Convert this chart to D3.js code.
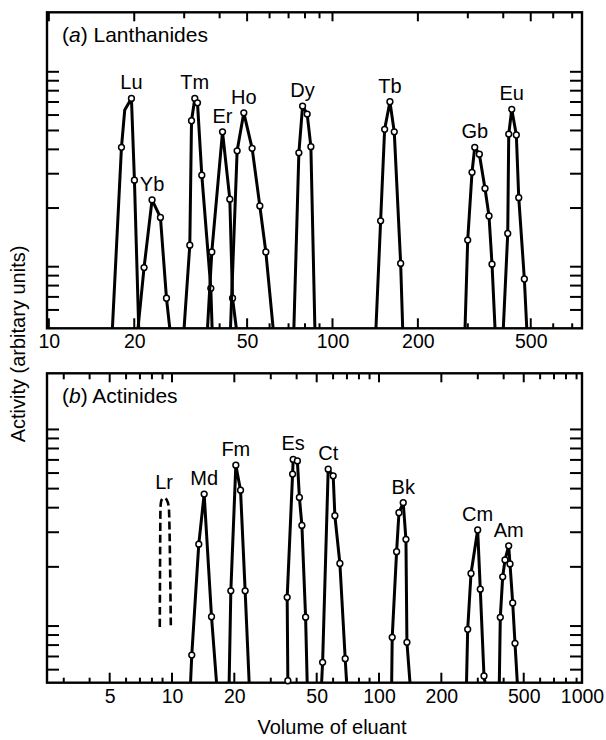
<!DOCTYPE html>
<html><head><meta charset="utf-8">
<script src="https://cdn.jsdelivr.net/npm/d3@7"></script>
<style>
body{margin:0;background:#fff}
svg text{font-family:"Liberation Sans",Arial,Helvetica,sans-serif;fill:#000}
</style>
</head><body><svg id="c" width="606" height="740"></svg>
<script>
// ---------- (a) Lanthanides ----------
const lanNames = ["Lu","Yb","Tm","Er","Ho","Dy","Tb","Gb","Eu"];
const lanVolume = [
  [16.75,18.03,18.51,19.55,20.03,20.74],
  [20.62,21.66,23.11,24.74,25.98,26.69],
  [29.97,31.40,31.84,32.70,33.42,34.61,37.24,37.63],
  [36.25,37.54,40.95,43.45,44.42,45.81],
  [43.69,46.11,48.68,52.08,55.44,58.21,61.77],
  [73.09,76.11,78.44,81.42,83.91,86.68],
  [142.3,147.8,152.7,159.4,165.1,173.9,176.8],
  [293.3,299.7,310.4,317.3,329.4,344.9,356.3,365.1,374.1],
  [400.2,414.8,418.2,428.5,444.8,453.6,474.7,484.1]
];
const lanActivity = [
  [0.45,4.10,6.36,7.30,2.78,0.45],
  [0.45,0.99,2.20,1.79,0.689,0.45],
  [0.45,1.29,5.61,7.30,6.93,2.95,0.775,0.45],
  [0.45,1.19,4.92,2.22,0.689,0.45],
  [0.45,3.93,6.16,4.05,2.05,1.19,0.45],
  [0.45,3.84,6.67,6.07,4.13,0.45],
  [0.45,1.72,5.07,7.02,4.92,1.04,0.45],
  [0.45,1.37,3.05,4.10,3.78,2.52,1.82,1.03,0.45],
  [0.45,1.48,4.79,6.42,4.74,2.26,0.865,0.45]
];
const lanMarked = [
  [0,1,0,1,1,0],
  [0,1,1,1,1,0],
  [0,1,1,1,1,1,1,0],
  [0,1,1,1,1,0],
  [0,1,1,1,1,1,0],
  [0,1,1,1,1,0],
  [0,1,1,1,1,1,0],
  [0,1,1,1,1,1,1,1,0],
  [0,1,1,1,1,1,1,0]
];
const lanTickLabels = [10,20,50,100,200,500];

// ---------- (b) Actinides ----------
const actNames = ["Md","Fm","Es","Ct","Bk","Cm","Am"];
const actVolume = [
  [12.29,12.46,13.47,14.30,15.52,16.41],
  [18.88,19.24,20.34,21.43,22.56,23.59],
  [36.28,36.0,38.24,38.49,40.33,41.24,42.41,44.19,44.98],
  [52.8,53.4,56.82,60.06,61.2,64.71,68.65,69.74],
  [115.1,115.8,121.6,124.8,130.9,134.9,136.4,141.1],
  [264.6,268.1,278.2,299.6,308.4,321.4,325.0],
  [381.1,385.3,395.7,406.0,423.0,429.2,442.3,453.8,465.6]
];
const actActivity = [
  [0.45,0.712,2.61,4.69,1.115,0.45],
  [0.45,1.51,6.58,4.91,1.51,0.45],
  [0.527,1.40,5.93,7.04,6.92,4.51,3.25,1.11,0.45],
  [0.45,0.654,6.28,5.81,3.64,2.08,0.682,0.45],
  [0.45,0.876,2.39,3.77,4.24,2.76,0.826,0.45],
  [0.45,0.962,1.85,3.08,1.54,0.557,0.45],
  [0.45,1.107,1.78,2.17,2.56,2.07,1.31,0.817,0.45]
];
const actMarked = [
  [0,1,1,1,1,0],
  [0,1,1,1,1,0],
  [1,1,1,1,1,1,1,1,0],
  [0,1,1,1,1,1,1,0],
  [0,1,1,1,1,1,1,0],
  [0,1,1,1,1,1,0],
  [0,1,1,1,1,1,1,1,0]
];
const lrName = "Lr";
const lrVolume = [8.73,8.80,8.90,9.16,9.44,9.65,9.87];
const lrActivity = [0.99,4.04,4.37,4.49,4.37,4.04,1.01];
const actTickLabels = [5,10,20,50,100,200,500,1000];

const yTicks = [0.6,0.7,0.8,0.9,1,2,3,4,5,6,7,8,9,10];

const svg = d3.select("#c");

function drawPanel(o){
  const x = d3.scaleLog().domain(o.xDomain).range([o.left,o.right]).clamp(true);
  const y = d3.scaleLog().domain(o.yDomain).range([o.bottom,o.top]).clamp(true);
  const g = svg.append("g");
  const xt = x.ticks().filter(v=>v>=o.xDomain[0] && v<=o.xDomain[1]);
  const isMajor = v => o.labels.includes(v);
  // bottom axis labels
  const bx = d3.axisBottom(x).tickValues(o.labels).tickSize(0).tickFormat(d=>String(d));
  const gb = g.append("g").attr("transform",`translate(0,${o.bottom})`).call(bx);
  gb.select(".domain").remove();
  gb.selectAll("text").attr("dy",0).attr("y",20).style("font-size","19.5px")
    .style("font-family",'"Liberation Sans",Arial,sans-serif').style("fill","#000");
  // inward ticks bottom
  g.selectAll(".tb").data(xt).join("line")
    .attr("x1",d=>x(d)).attr("x2",d=>x(d))
    .attr("y1",o.bottom).attr("y2",d=>o.bottom-(isMajor(d)?10:5))
    .attr("stroke","#000").attr("stroke-width",2);
  // inward ticks top
  g.selectAll(".tt").data(xt).join("line")
    .attr("x1",d=>x(d)).attr("x2",d=>x(d))
    .attr("y1",o.top).attr("y2",d=>o.top+(isMajor(d)?9:6))
    .attr("stroke","#000").attr("stroke-width",2);
  // y ticks left/right (inward)
  const yt = yTicks.filter(v=>v>=o.yDomain[0]&&v<=o.yDomain[1]);
  g.selectAll(".yl").data(yt).join("line")
    .attr("x1",o.left).attr("x2",o.left+12)
    .attr("y1",d=>y(d)).attr("y2",d=>y(d))
    .attr("stroke","#000").attr("stroke-width",2);
  g.selectAll(".yr").data(yt).join("line")
    .attr("x1",o.right).attr("x2",o.right-12)
    .attr("y1",d=>y(d)).attr("y2",d=>y(d))
    .attr("stroke","#000").attr("stroke-width",2);
  // frame
  g.append("rect").attr("x",o.left).attr("y",o.top)
    .attr("width",o.right-o.left).attr("height",o.bottom-o.top)
    .attr("fill","none").attr("stroke","#000").attr("stroke-width",2.4);
  // title
  const t = g.append("text").attr("x",o.left+15).attr("y",o.top+30).style("font-size","21px");
  t.append("tspan").text("(");
  t.append("tspan").style("font-style","italic").text(o.letter);
  t.append("tspan").text(") "+o.title);

  const line = d3.line().x(d=>x(d[0])).y(d=>y(d[1]));
  o.names.forEach((nm,i)=>{
    const pts = o.vol[i].map((v,j)=>[v,o.act[i][j],o.mark[i][j]]);
    g.append("path").attr("d",line(pts)).attr("fill","none")
      .attr("stroke","#000").attr("stroke-width",3).attr("stroke-linejoin","round");
    g.selectAll(null).data(pts.filter(p=>p[2])).join("circle")
      .attr("cx",d=>x(d[0])).attr("cy",d=>y(d[1])).attr("r",2.9)
      .attr("fill","#fff").attr("stroke","#000").attr("stroke-width",1.5);
    const pk = pts.reduce((a,b)=>b[1]>a[1]?b:a);
    g.append("text").attr("x",x(pk[0])).attr("y",y(pk[1])-9)
      .attr("text-anchor","middle").style("font-size","20px").text(nm);
  });
  return {x,y,g};
}

drawPanel({
  xDomain:[9.85,758], yDomain:[0.483,20.2],
  left:47, right:582, top:12.3, bottom:328.3,
  labels:lanTickLabels, letter:"a", title:"Lanthanides",
  names:lanNames, vol:lanVolume, act:lanActivity, mark:lanMarked
});

const pb = drawPanel({
  xDomain:[2.49,956], yDomain:[0.515,19.3],
  left:47, right:582, top:373.3, bottom:682.7,
  labels:actTickLabels, letter:"b", title:"Actinides",
  names:actNames, vol:actVolume, act:actActivity, mark:actMarked
});

// Lr dashed
const lrPts = lrVolume.map((v,i)=>[v,lrActivity[i]]);
pb.g.append("path")
  .attr("d",d3.line().x(d=>pb.x(d[0])).y(d=>pb.y(d[1])).curve(d3.curveMonotoneX)(lrPts))
  .attr("fill","none").attr("stroke","#000").attr("stroke-width",2.6).attr("stroke-dasharray","8,4");
const lrTop = lrPts.reduce((a,b)=>b[1]>a[1]?b:a);
pb.g.append("text").attr("x",pb.x(lrTop[0])).attr("y",pb.y(lrTop[1])-9)
  .attr("text-anchor","middle").style("font-size","20px").text(lrName);

// axis titles
svg.append("text").attr("transform","translate(25,344) rotate(-90)")
  .attr("text-anchor","middle").style("font-size","20px").text("Activity (arbitary units)");
svg.append("text").attr("x",332).attr("y",734)
  .attr("text-anchor","middle").style("font-size","20px").text("Volume of eluant");
</script>
</body></html>
